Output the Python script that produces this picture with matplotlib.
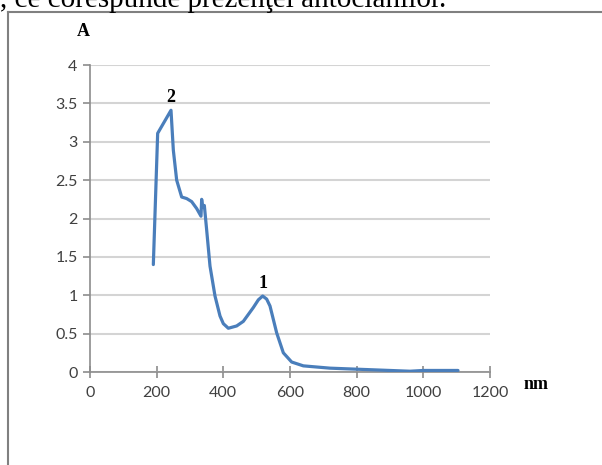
import matplotlib
matplotlib.use("Agg")
import matplotlib.pyplot as plt
from matplotlib.lines import Line2D

# Spectru UV-Vis: lungime de undă (nm) și absorbanță (A)
wavelength = [190, 203, 243, 250, 260, 275, 290, 305, 320, 333, 335, 338, 343,
              350, 360, 375, 390, 400, 415, 440, 460, 490, 505, 518, 530, 540,
              560, 580, 605, 640, 720, 840, 960, 1000, 1104]
absorbance = [1.40, 3.11, 3.41, 2.89, 2.50, 2.28, 2.26, 2.22, 2.13, 2.03, 2.25,
              2.15, 2.17, 1.85, 1.38, 0.99, 0.73, 0.63, 0.57, 0.60, 0.66, 0.84,
              0.94, 0.99, 0.95, 0.86, 0.51, 0.25, 0.13, 0.08, 0.05, 0.03, 0.01,
              0.02, 0.02]

x_ticks = [0, 200, 400, 600, 800, 1000, 1200]
y_ticks = [0, 0.5, 1, 1.5, 2, 2.5, 3, 3.5, 4]
y_labels = ["0", "0.5", "1", "1.5", "2", "2.5", "3", "3.5", "4"]

peaks = [("2", 243, 3.41), ("1", 518, 0.99)]

W, H = 602, 465
fig = plt.figure(figsize=(W / 100, H / 100), dpi=100)
ax = fig.add_axes([90 / W, 1 - 372 / H, 400 / W, 307 / H])

ax.plot(wavelength, absorbance, color="#4a7ebb", lw=2.3,
        solid_joinstyle="round", solid_capstyle="round", zorder=3)

ax.set_xlim(0, 1200)
ax.set_ylim(0, 4)
ax.set_xticks(x_ticks)
ax.set_yticks(y_ticks)
ax.set_yticklabels(y_labels)
ax.yaxis.grid(True, color="#d4d4d4", lw=1.5)
ax.set_axisbelow(True)

for side in ("top", "right"):
    ax.spines[side].set_visible(False)
for side in ("left", "bottom"):
    ax.spines[side].set_color("#8c8c8c")
    ax.spines[side].set_linewidth(1.2)

tick_font = ["Lato", "DejaVu Sans"]
ax.tick_params(axis="both", colors="#8c8c8c", width=1.2, length=5,
               labelcolor="#404040", labelsize=11.5)
ax.tick_params(axis="x", direction="inout", length=8, pad=6)
ax.tick_params(axis="y", direction="out", pad=4)
for lab in ax.get_xticklabels() + ax.get_yticklabels():
    lab.set_family(tick_font)

serif = "Liberation Serif"
for txt, x, y in peaks:
    ax.annotate(txt, (x, y), textcoords="offset points", xytext=(0, 3),
                ha="center", va="bottom", family=serif, weight="bold",
                fontsize=13)

fig.text(83 / W, 1 - 32 / H, "A", family=serif, weight="bold", fontsize=13,
         ha="center", va="center")
fig.text(536 / W, 1 - 384 / H, "nm", family=serif, weight="bold", fontsize=13,
         ha="center", va="center")

# rândul de text tăiat de deasupra figurii
fig.text(0.0, 1 - 7 / H, ", ce corespunde prezenţei antocianilor.",
         family=serif, fontsize=21, ha="left", va="baseline")

# chenarul imaginii
fig.add_artist(Line2D([8 / W, 8 / W], [0, 1 - 12 / H], color="#808080",
                      lw=1.5, transform=fig.transFigure))
fig.add_artist(Line2D([8 / W, 1], [1 - 12 / H, 1 - 12 / H], color="#808080",
                      lw=1.5, transform=fig.transFigure))

fig.savefig("out.png", dpi=100)
